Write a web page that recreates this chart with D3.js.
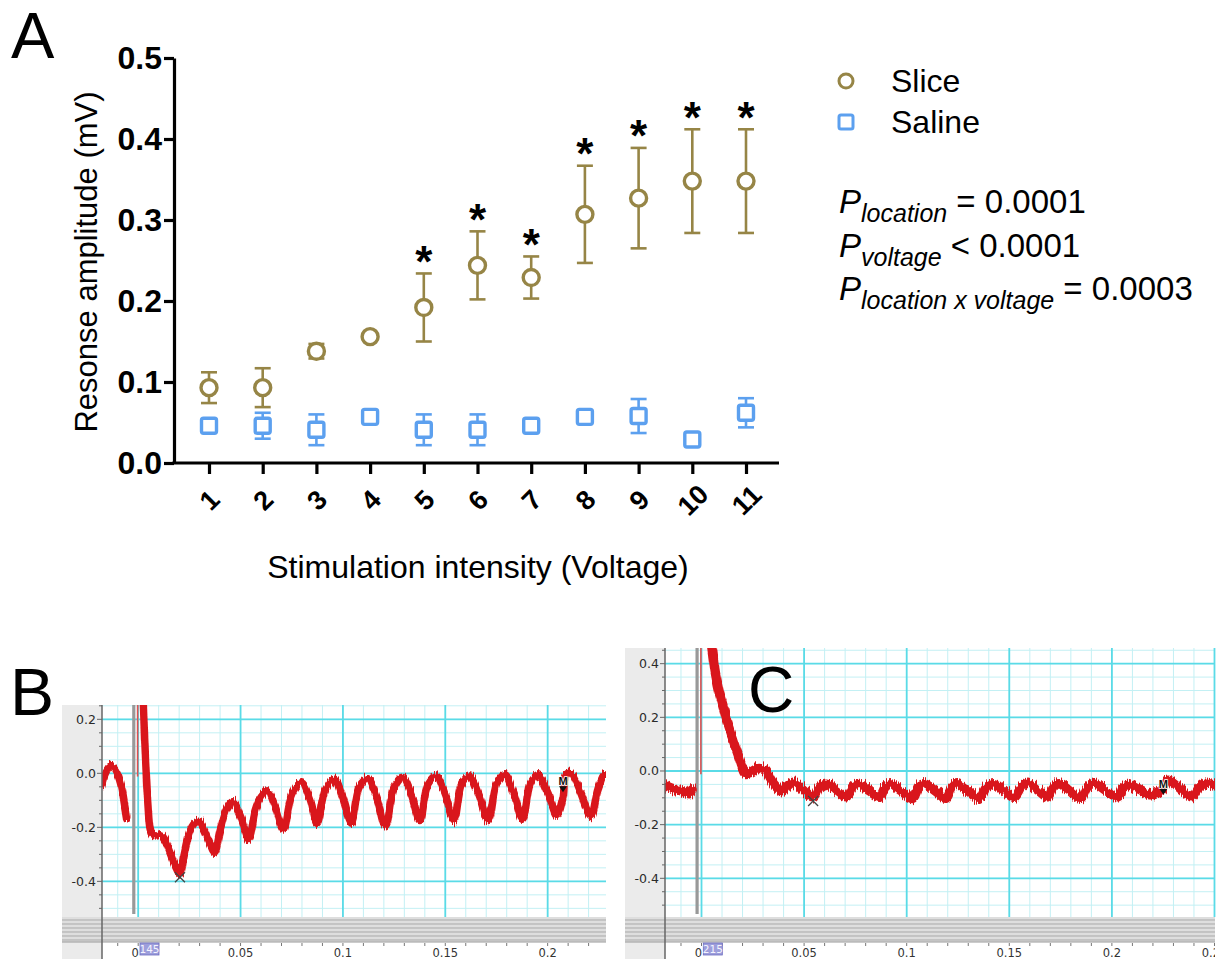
<!DOCTYPE html>
<html>
<head>
<meta charset="utf-8">
<script src="https://cdn.jsdelivr.net/npm/d3@7"></script>
<style>
  body { margin: 0; background: #fff; }
  svg { display: block; font-family: "Liberation Sans", Arial, Helvetica, sans-serif; }
</style>
</head>
<body>
<svg width="1219" height="959"></svg>
<script>
// ---------- panel A values ----------
let voltages = [1, 2, 3, 4, 5, 6, 7, 8, 9, 10, 11];
let slice_mean = [0.093, 0.093, 0.138, 0.156, 0.192, 0.244, 0.229, 0.307, 0.327, 0.348, 0.348];
let slice_sem = [0.019, 0.024, 0.009, 0.003, 0.042, 0.042, 0.026, 0.060, 0.062, 0.064, 0.064];
let saline_mean = [0.046, 0.046, 0.041, 0.057, 0.041, 0.041, 0.046, 0.057, 0.058, 0.029, 0.062];
let saline_sem = [0.003, 0.016, 0.019, 0.006, 0.019, 0.019, 0.003, 0.003, 0.021, 0.003, 0.018];
let starred = [5, 6, 7, 8, 9, 10, 11];
let amp_ticks = [0, 0.1, 0.2, 0.3, 0.4, 0.5];
let legend_names = ["Slice", "Saline"];
let p_subs = ["location", "voltage", "location x voltage"];
let p_vals = ["= 0.0001", "< 0.0001", "= 0.0003"];

// ---------- panels B / C: scope traces, [time (s), mV] ----------
let traceB_pre = [[-0.0178, -0.045], [-0.0160, 0.0], [-0.0140, 0.025], [-0.0120, 0.02], [-0.0100, -0.005],
  [-0.0082, -0.05], [-0.0068, -0.11], [-0.0056, -0.165]];
let traceB_post = [[0.0022, 0.32], [0.0036, 0.05], [0.0048, -0.12], [0.0058, -0.205], [0.0070, -0.228],
  [0.0090, -0.232], [0.0110, -0.228], [0.0130, -0.245], [0.0160, -0.30], [0.0185, -0.35], [0.0204, -0.372],
  [0.0225, -0.30], [0.0250, -0.22], [0.0275, -0.185], [0.0296, -0.178], [0.0320, -0.205], [0.0350, -0.26],
  [0.0373, -0.292], [0.0400, -0.21], [0.0430, -0.135], [0.0462, -0.105], [0.0500, -0.16], [0.0541, -0.245],
  [0.0570, -0.14], [0.0600, -0.085], [0.0631, -0.065], [0.0670, -0.125], [0.0709, -0.21], [0.0750, -0.08],
  [0.0797, -0.035], [0.0840, -0.10], [0.0873, -0.185], [0.0915, -0.06], [0.0959, -0.022], [0.1000, -0.09],
  [0.1041, -0.185], [0.1080, -0.05], [0.1122, -0.02], [0.1165, -0.09], [0.1208, -0.195], [0.1250, -0.05],
  [0.1290, -0.015], [0.1335, -0.08], [0.1376, -0.175], [0.1415, -0.04], [0.1456, -0.01], [0.1500, -0.08],
  [0.1542, -0.175], [0.1580, -0.04], [0.1619, -0.01], [0.1665, -0.08], [0.1710, -0.175], [0.1750, -0.04],
  [0.1791, -0.005], [0.1835, -0.075], [0.1877, -0.17], [0.1915, -0.04], [0.1953, -0.005], [0.2000, -0.07],
  [0.2045, -0.155], [0.2075, -0.09], [0.2090, 0.0], [0.2115, 0.0], [0.2160, -0.07], [0.2211, -0.16],
  [0.2245, -0.06], [0.2278, -0.005], [0.2290, -0.01]];
let traceC_pre = [[-0.0178, -0.055], [-0.0155, -0.065], [-0.0130, -0.07], [-0.0105, -0.068],
  [-0.0080, -0.08], [-0.0060, -0.085], [-0.0046, -0.07]];
let traceC_post = [[0.0045, 0.50], [0.0058, 0.42], [0.0068, 0.364], [0.0085, 0.30], [0.0106, 0.24],
  [0.0125, 0.185], [0.0144, 0.14], [0.0163, 0.095], [0.0182, 0.053], [0.0198, 0.015], [0.0211, -0.009],
  [0.0240, -0.005], [0.0268, 0.008], [0.0295, 0.008], [0.0315, 0.0], [0.0340, -0.035], [0.0363, -0.058],
  [0.0392, -0.077], [0.0420, -0.055], [0.0449, -0.042], [0.0490, -0.065], [0.0544, -0.096], [0.0575, -0.06],
  [0.0610, -0.046], [0.0655, -0.07], [0.0706, -0.096], [0.0740, -0.06], [0.0772, -0.05], [0.0820, -0.075],
  [0.0868, -0.098], [0.0895, -0.06], [0.0924, -0.048], [0.0975, -0.075], [0.1029, -0.102], [0.1058, -0.06],
  [0.1086, -0.048], [0.1140, -0.075], [0.1191, -0.102], [0.1220, -0.06], [0.1248, -0.048], [0.1300, -0.075],
  [0.1353, -0.102], [0.1390, -0.06], [0.1429, -0.048], [0.1475, -0.075], [0.1524, -0.098], [0.1560, -0.06],
  [0.1591, -0.046], [0.1640, -0.072], [0.1686, -0.096], [0.1715, -0.06], [0.1743, -0.048], [0.1795, -0.075],
  [0.1848, -0.102], [0.1880, -0.06], [0.1915, -0.046], [0.1970, -0.072], [0.2030, -0.096], [0.2055, -0.06],
  [0.2077, -0.05], [0.2135, -0.072], [0.2191, -0.089], [0.2245, -0.07], [0.2270, -0.035], [0.2295, -0.04],
  [0.2340, -0.07], [0.2390, -0.096], [0.2425, -0.06], [0.2457, -0.046], [0.2514, -0.058]];
let cross_B = [0.0204, -0.385];
let cross_C = [0.0544, -0.112];
let mflag_B = [0.2075, -0.07];
let mflag_C = [0.2251, -0.089];
let cursor_labels = ["145", "215"];
let scope_t_ticks = [0, 0.05, 0.1, 0.15, 0.2, 0.25];
let scope_v_ticks = [-0.4, -0.2, 0, 0.2, 0.4];

let slice_color = "#968546";
let saline_color = "#5ca0ef";
let trace_color = "#d9161b";

let svg = d3.select("svg");

// jagged edge for the noisy recording band (vertical jitter only)
let defs = svg.append("defs");
let jitter = defs.append("filter").attr("id", "jitter")
  .attr("filterUnits", "userSpaceOnUse")
  .attr("x", 0).attr("y", 600).attr("width", 1219).attr("height", 359);
jitter.append("feTurbulence").attr("type", "fractalNoise")
  .attr("baseFrequency", "0.9 0.04").attr("numOctaves", 1).attr("seed", 3).attr("result", "noise");
jitter.append("feColorMatrix").attr("in", "noise").attr("type", "matrix")
  .attr("values", "0 0 0 0 0.5  0 1 0 0 0  0 0 1 0 0  0 0 0 0 1").attr("result", "ynoise");
jitter.append("feDisplacementMap").attr("in", "SourceGraphic").attr("in2", "ynoise")
  .attr("scale", 12).attr("xChannelSelector", "R").attr("yChannelSelector", "G");

// ================= panel A =================
let xA = d3.scaleLinear().domain([1, 11]).range([209, 746]);
let yA = d3.scaleLinear().domain([0, 0.5]).range([463, 58]);

svg.append("text").attr("x", 11).attr("y", 58).attr("font-size", 65).text("A");

// y axis
let yAxisA = svg.append("g")
  .attr("transform", "translate(174,0)")
  .call(d3.axisLeft(yA).tickValues(amp_ticks).tickFormat(d3.format(".1f")).tickSize(10).tickSizeOuter(0));
yAxisA.select(".domain").attr("stroke-width", 3.2);
yAxisA.selectAll(".tick line").attr("stroke-width", 3.2);
yAxisA.selectAll(".tick text")
  .attr("x", -12)
  .attr("font-size", 32).attr("font-weight", "bold")
  .attr("font-family", "Liberation Sans, Arial, sans-serif").attr("fill", "#000");

// x axis
let xAxisA = svg.append("g")
  .attr("transform", "translate(0,463)")
  .call(d3.axisBottom(xA).tickValues(voltages).tickSize(11).tickSizeOuter(0));
xAxisA.select(".domain").remove();
xAxisA.append("line").attr("x1", 172.4).attr("x2", 779).attr("stroke", "#000").attr("stroke-width", 3.2);
xAxisA.selectAll(".tick line").attr("stroke-width", 3.2);
xAxisA.selectAll(".tick text")
  .attr("y", 0).attr("dy", "0.35em")
  .attr("transform", "translate(0,37) rotate(-45)")
  .attr("text-anchor", "middle")
  .attr("font-size", 27).attr("font-weight", "bold")
  .attr("font-family", "Liberation Sans, Arial, sans-serif").attr("fill", "#000");

// axis titles
svg.append("text")
  .attr("transform", "translate(97,262) rotate(-90)")
  .attr("text-anchor", "middle").attr("font-size", 31)
  .text("Resonse amplitude (mV)");
svg.append("text")
  .attr("x", 478).attr("y", 578)
  .attr("text-anchor", "middle").attr("font-size", 32)
  .text("Stimulation intensity (Voltage)");

function errorBars(means, sems, color) {
  let g = svg.append("g").attr("stroke", color).attr("stroke-width", 2.6).attr("fill", "none");
  voltages.forEach((v, i) => {
    let x = xA(v), hi = yA(means[i] + sems[i]), lo = yA(means[i] - sems[i]);
    g.append("line").attr("x1", x).attr("x2", x).attr("y1", hi).attr("y2", lo);
    g.append("line").attr("x1", x - 8).attr("x2", x + 8).attr("y1", hi).attr("y2", hi);
    g.append("line").attr("x1", x - 8).attr("x2", x + 8).attr("y1", lo).attr("y2", lo);
  });
}
errorBars(saline_mean, saline_sem, saline_color);
errorBars(slice_mean, slice_sem, slice_color);

svg.append("g").selectAll("rect")
  .data(voltages)
  .join("rect")
  .attr("x", (d, i) => xA(d) - 7.5)
  .attr("y", (d, i) => yA(saline_mean[i]) - 7.5)
  .attr("width", 15).attr("height", 15).attr("rx", 2)
  .attr("fill", "#fff").attr("stroke", saline_color).attr("stroke-width", 3.4);

svg.append("g").selectAll("circle")
  .data(voltages)
  .join("circle")
  .attr("cx", d => xA(d))
  .attr("cy", (d, i) => yA(slice_mean[i]))
  .attr("r", 8)
  .attr("fill", "#fff").attr("stroke", slice_color).attr("stroke-width", 3.4);

svg.append("g").selectAll("text")
  .data(starred)
  .join("text")
  .attr("x", d => xA(d))
  .attr("y", d => yA(slice_mean[d - 1] + slice_sem[d - 1]) + 3.5)
  .attr("text-anchor", "middle")
  .attr("font-size", 44).attr("font-weight", "bold")
  .text("*");

// legend
let legend = svg.append("g");
legend.append("circle").attr("cx", 846).attr("cy", 81).attr("r", 7)
  .attr("fill", "#fff").attr("stroke", slice_color).attr("stroke-width", 3);
legend.append("rect").attr("x", 839).attr("y", 115).attr("width", 14).attr("height", 14).attr("rx", 2)
  .attr("fill", "#fff").attr("stroke", saline_color).attr("stroke-width", 3);
legend.selectAll("text")
  .data(legend_names)
  .join("text")
  .attr("x", 891)
  .attr("y", (d, i) => 92 + i * 41)
  .attr("font-size", 32)
  .text(d => d);

// p values
p_subs.forEach((s, i) => {
  let t = svg.append("text").attr("x", 839).attr("y", 213 + i * 43.5).attr("font-size", 33);
  t.append("tspan").attr("font-style", "italic").text("P");
  t.append("tspan").attr("font-style", "italic").attr("font-size", 25).attr("dy", 9).text(s);
  t.append("tspan").attr("dy", -9).text(" " + p_vals[i]);
});

// ================= panels B, C (scope screenshots) =================
function drawScope(p) {
  let xs = d3.scaleLinear().domain([p.t0, p.t1]).range([p.left, p.right]);
  let ys = d3.scaleLinear().domain([p.v0, p.v1]).range([p.bottom, p.top]);
  let g = svg.append("g");

  g.append("rect").attr("x", p.outer).attr("y", p.top)
    .attr("width", p.left - p.outer).attr("height", p.end - p.top).attr("fill", "#ebebeb");
  g.append("rect").attr("x", p.left).attr("y", p.top)
    .attr("width", p.right - p.left).attr("height", p.bottom - p.top).attr("fill", "#fff");

  let inT = d => d >= p.t0 && d <= p.t1;
  let inV = d => d >= p.v0 && d <= p.v1;
  let minorT = d3.range(-2, 27).map(i => i / 100).filter(inT);
  let minorV = d3.range(-12, 12).map(i => i / 20).filter(inV);
  let majorT = scope_t_ticks.filter(inT);
  let majorV = scope_v_ticks.filter(inV);

  g.selectAll(".mt").data(minorT).join("line")
    .attr("x1", xs).attr("x2", xs).attr("y1", p.top).attr("y2", p.bottom)
    .attr("stroke", "#c3f0f4").attr("stroke-width", 1);
  g.selectAll(".mv").data(minorV).join("line")
    .attr("x1", p.left).attr("x2", p.right).attr("y1", ys).attr("y2", ys)
    .attr("stroke", "#c3f0f4").attr("stroke-width", 1);
  g.selectAll(".Mt").data(majorT).join("line")
    .attr("x1", xs).attr("x2", xs).attr("y1", p.top).attr("y2", p.bottom)
    .attr("stroke", "#5adbe7").attr("stroke-width", 1.8);
  g.selectAll(".Mv").data(majorV).join("line")
    .attr("x1", p.left).attr("x2", p.right).attr("y1", ys).attr("y2", ys)
    .attr("stroke", "#5adbe7").attr("stroke-width", 1.8);

  // cursor bar + stimulus marker
  g.append("rect").attr("x", xs(-0.0022) - 1.5).attr("y", p.top)
    .attr("width", 3.2).attr("height", p.bottom - p.top - 3).attr("fill", "#999");
  g.append("line").attr("x1", xs(-0.0003)).attr("x2", xs(-0.0003))
    .attr("y1", p.top).attr("y2", ys(-0.012))
    .attr("stroke", "#e05050").attr("stroke-width", 1.6);

  // trace
  let clipId = "clip-" + p.name;
  svg.append("clipPath").attr("id", clipId).append("rect")
    .attr("x", p.left).attr("y", p.top).attr("width", p.right - p.left).attr("height", p.bottom - p.top);
  let line = d3.line().x(d => xs(d[0])).y(d => ys(d[1])).curve(d3.curveCatmullRom.alpha(0.5));
  g.append("g").attr("clip-path", `url(#${clipId})`)
    .append("g").attr("filter", "url(#jitter)")
    .selectAll("path").data([p.pre, p.post]).join("path")
    .attr("d", line)
    .attr("fill", "none").attr("stroke", trace_color)
    .attr("stroke-width", p.band).attr("stroke-linejoin", "round").attr("stroke-linecap", "round");

  // trough cross
  let cx = xs(p.cross[0]), cy = ys(p.cross[1]);
  g.append("path").attr("d", `M${cx - 5},${cy - 5}L${cx + 5},${cy + 5}M${cx - 5},${cy + 5}L${cx + 5},${cy - 5}`)
    .attr("stroke", "#444").attr("stroke-width", 1.3);

  // M flag
  let mx = xs(p.mflag[0]), my = ys(p.mflag[1]);
  g.append("path").attr("d", `M${mx - 4},${my - 6}L${mx + 4},${my - 6}L${mx},${my}Z`).attr("fill", "#111");
  g.append("text").attr("x", mx).attr("y", my - 7).attr("text-anchor", "middle")
    .attr("font-size", 11).attr("font-weight", "bold").attr("fill", "#111")
    .attr("stroke", "#fff").attr("stroke-width", 1.5).attr("paint-order", "stroke")
    .text("M");

  // striped bar under the plot
  g.append("rect").attr("x", p.outer).attr("y", p.bottom)
    .attr("width", p.right - p.outer).attr("height", p.stripe - p.bottom).attr("fill", "#dedede");
  g.selectAll(".st").data(d3.range(p.bottom + 3, p.stripe - 1, 4)).join("line")
    .attr("x1", p.outer).attr("x2", p.right).attr("y1", d => d).attr("y2", d => d)
    .attr("stroke", "#a9a9a9").attr("stroke-width", 1);

  // time axis strip
  g.append("rect").attr("x", p.left).attr("y", p.stripe)
    .attr("width", p.right - p.left).attr("height", p.end - p.stripe).attr("fill", "#fff");
  g.append("line").attr("x1", p.outer).attr("x2", p.right).attr("y1", p.stripe).attr("y2", p.stripe)
    .attr("stroke", "#999");
  g.selectAll(".tt").data(minorT).join("line")
    .attr("x1", xs).attr("x2", xs).attr("y1", p.stripe + 1).attr("y2", p.stripe + 4)
    .attr("stroke", "#777");
  let clipAx = "clipax-" + p.name;
  svg.append("clipPath").attr("id", clipAx).append("rect")
    .attr("x", p.left).attr("y", p.stripe).attr("width", p.right - p.left).attr("height", p.end - p.stripe);
  g.append("g").attr("clip-path", `url(#${clipAx})`)
    .selectAll("text").data(majorT.concat(scope_t_ticks.filter(d => d > p.t1 && d < p.t1 + 0.01))).join("text")
    .attr("x", d => xs(d) - (d === 0 ? 3 : 0)).attr("y", p.end - 2.5).attr("text-anchor", "middle")
    .attr("font-family", "DejaVu Sans, sans-serif").attr("font-size", 11.5).attr("fill", "#333")
    .text(d => d3.format("~g")(d));
  let bx = xs(0) + 1.8;
  g.append("rect").attr("x", bx).attr("y", p.stripe + 1).attr("width", 19).attr("height", 12)
    .attr("fill", "#9d9edb").attr("stroke", "#6b6cc0").attr("stroke-width", 0.8);
  g.append("text").attr("x", bx + 9.5).attr("y", p.stripe + 11).attr("text-anchor", "middle")
    .attr("font-family", "DejaVu Sans, sans-serif").attr("font-size", 10.5).attr("fill", "#f4f4ff")
    .text(p.cursorLabel);

  // voltage axis
  g.append("line").attr("x1", p.left).attr("x2", p.left).attr("y1", p.top).attr("y2", p.end)
    .attr("stroke", "#666").attr("stroke-width", 1.5);
  g.selectAll(".vt").data(minorV).join("line")
    .attr("x1", d => p.left - (majorV.some(m => Math.abs(m - d) < 1e-6) ? 5 : 3)).attr("x2", p.left)
    .attr("y1", ys).attr("y2", ys).attr("stroke", "#666");
  g.selectAll(".vl").data(majorV).join("text")
    .attr("x", p.left - 6).attr("y", ys).attr("dy", "0.35em").attr("text-anchor", "end")
    .attr("font-family", "DejaVu Sans, sans-serif").attr("font-size", 12.5).attr("fill", "#2a2a2a")
    .text(d => d.toFixed(1));
}

drawScope({
  name: "B", outer: 62, left: 102, right: 606, top: 705, bottom: 917, stripe: 942, end: 959,
  t0: -0.01768, t1: 0.2285, v0: -0.532, v1: 0.253,
  pre: traceB_pre, post: traceB_post, cross: cross_B, mflag: mflag_B,
  cursorLabel: cursor_labels[0], band: 7.5
});
drawScope({
  name: "C", outer: 625, left: 665, right: 1215, top: 648, bottom: 917, stripe: 942, end: 959,
  t0: -0.01779, t1: 0.25025, v0: -0.5442, v1: 0.4584,
  pre: traceC_pre, post: traceC_post, cross: cross_C, mflag: mflag_C,
  cursorLabel: cursor_labels[1], band: 9.5
});

svg.append("text").attr("x", 10).attr("y", 715).attr("font-size", 66).text("B");
svg.append("text").attr("x", 748).attr("y", 712).attr("font-size", 64).text("C");
</script>
</body>
</html>
